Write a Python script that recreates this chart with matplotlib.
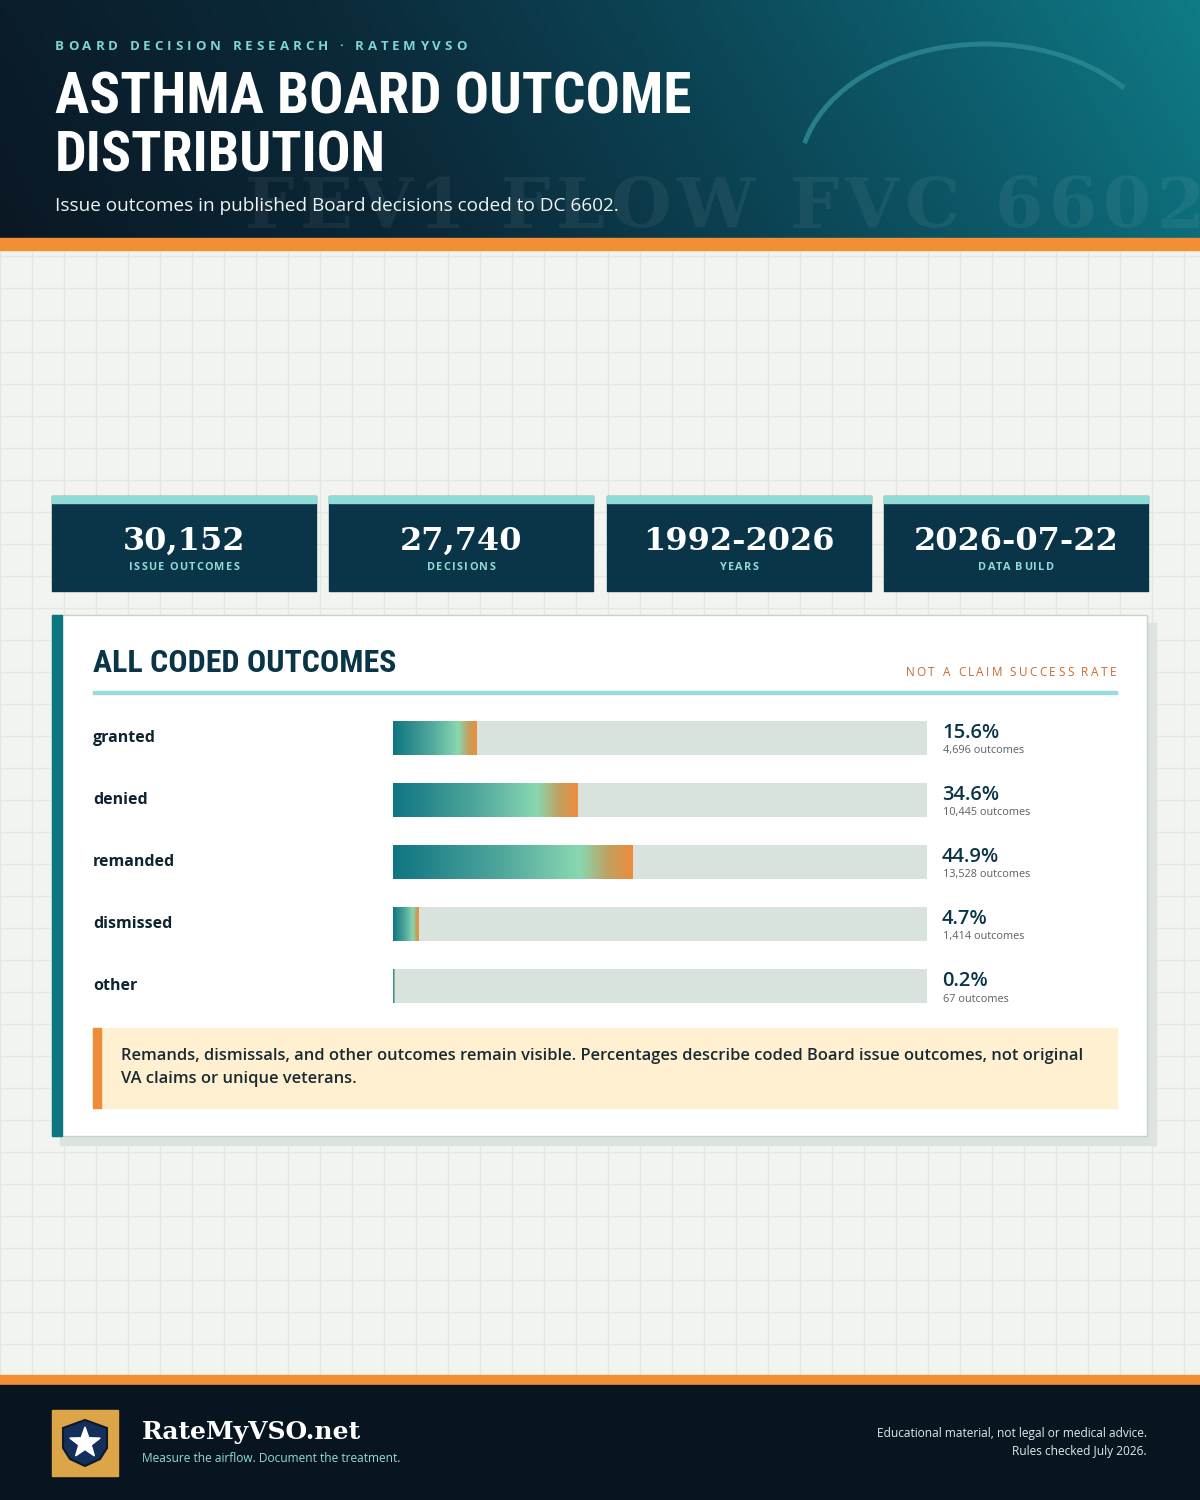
import matplotlib
matplotlib.use("Agg")
import matplotlib.pyplot as plt
import numpy as np
from matplotlib import font_manager as fm
from matplotlib.colors import LinearSegmentedColormap
from matplotlib.patches import Rectangle, Polygon, Arc

# ---------------- data ----------------
categories = ["granted", "denied", "remanded", "dismissed", "other"]
percents = [15.6, 34.6, 44.9, 4.7, 0.2]
counts = ["4,696", "10,445", "13,528", "1,414", "67"]
stat_values = ["30,152", "27,740", "1992-2026", "2026-07-22"]
stat_labels = ["ISSUE OUTCOMES", "DECISIONS", "YEARS", "DATA BUILD"]

avail = {f.name for f in fm.fontManager.ttflist}
def pick(*names):
    for n in names:
        if n in avail:
            return n
    return "DejaVu Sans"

COND = pick("Liberation Sans Narrow", "DejaVu Sans Condensed", "Roboto Condensed", "Liberation Sans")
BODY = pick("Open Sans", "Lato", "Noto Sans", "DejaVu Sans")
SERIF = pick("DejaVu Serif", "Liberation Serif")

W, H = 1200, 1500
fig = plt.figure(figsize=(12, 15), dpi=100)
ax = fig.add_axes([0, 0, 1, 1])
ax.set_xlim(0, W)
ax.set_ylim(H, 0)
ax.axis("off")
renderer = fig.canvas.get_renderer()

def text_w(s, **kw):
    t = ax.text(0, 0, s, **kw)
    w = t.get_window_extent(renderer).width
    t.remove()
    return w

def fit_text(x, y, s, width, base=20, **kw):
    w = text_w(s, fontsize=base, **kw)
    fs = base * width / w
    return ax.text(x, y, s, fontsize=fs, **kw)

def spaced(x, y, s, spacing, ha="left", **kw):
    total = text_w(s, **kw) + spacing * (len(s) - 1)
    if ha == "right":
        x0 = x - total
    elif ha == "center":
        x0 = x - total / 2
    else:
        x0 = x
    for i, ch in enumerate(s):
        if ch == " ":
            continue
        off = text_w(s[:i] + "|", **kw) - text_w("|", **kw) if i > 0 else 0
        ax.text(x0 + off + i * spacing, y, ch, ha="left", **kw)

# ---------------- background ----------------
ax.add_patch(Rectangle((0, 0), W, H, color="#f2f4ef", zorder=0))
for gx in range(0, W + 1, 32):
    ax.plot([gx, gx], [250, 1375], color="#e1e8e3", lw=1, zorder=0.5)
for gy in range(256, 1375, 32):
    ax.plot([0, W], [gy, gy], color="#e1e8e3", lw=1, zorder=0.5)

# ---------------- header ----------------
hcmap = LinearSegmentedColormap.from_list(
    "hdr", [(0, "#0a1824"), (0.35, "#0b2a3a"), (0.6, "#0c4555"), (0.82, "#0d6170"), (1, "#0f7b86")])
gx_ = np.linspace(0, 1, 300)
gy_ = np.linspace(0, 1, 60)
G = np.clip(gx_[None, :] * 0.9 + (1 - gy_[:, None]) * 0.1, 0, 1)
ax.imshow(G, cmap=hcmap, extent=(0, W, 238, 0), aspect="auto", zorder=1, vmin=0, vmax=1)
ax.add_patch(Rectangle((0, 238), W, 12, color="#f28f35", zorder=2))

ax.add_patch(Arc((985, 175), 372, 262, theta1=190, theta2=328, color="#2a8590", lw=3.5,
                 alpha=0.9, zorder=2))
spaced(245, 208, "FEV1 FLOW FVC 6602", 5.5, fontsize=50, family=SERIF, fontweight="bold",
       color="#ffffff", alpha=0.06, va="center", zorder=2)

spaced(55, 46, "BOARD DECISION RESEARCH · RATEMYVSO", 4.0, fontsize=9.5, family=BODY,
       fontweight="bold", color="#7fd6d0", va="center", zorder=3)
fit_text(55, 98, "ASTHMA BOARD OUTCOME", 636, family=COND, fontweight="bold", color="white",
         va="center", zorder=3)
fit_text(55, 157, "DISTRIBUTION", 332, family=COND, fontweight="bold", color="white",
         va="center", zorder=3)
fit_text(55, 206, "Issue outcomes in published Board decisions coded to DC 6602.", 563,
         family=BODY, color="#eef5f5", va="center", zorder=3)

# ---------------- stat cards ----------------
card_x = [52, 329, 607, 884]
cw = 264
for x0, v, lab in zip(card_x, stat_values, stat_labels):
    ax.add_patch(Rectangle((x0, 496), cw, 95, color="#0a3447", zorder=2))
    ax.add_patch(Rectangle((x0, 496), cw, 7, color="#8fdcd6", zorder=3))
    ax.text(x0 + cw / 2, 541, v, fontsize=23, family=SERIF, fontweight="bold",
            color="white", ha="center", va="center", zorder=3)
    spaced(x0 + cw / 2, 567, lab, 1.3, ha="center", fontsize=7.8, family=BODY,
           fontweight="bold", color="#8fdcd6", va="center", zorder=3)

# ---------------- panel ----------------
ax.add_patch(Rectangle((60, 623), 1096, 522, color="#dde3df", zorder=1.5))
ax.add_patch(Rectangle((52, 615), 1095, 521, facecolor="white", edgecolor="#c9cfcc", lw=1, zorder=2))
ax.add_patch(Rectangle((52, 615), 10, 521, color="#0e7582", zorder=3))
fit_text(93, 663, "ALL CODED OUTCOMES", 302, family=COND, fontweight="bold", color="#0a3447",
         va="center", zorder=3)
spaced(1116, 673, "NOT A CLAIM SUCCESS RATE", 2.4, ha="right", fontsize=8.5, family=BODY,
       color="#c8692a", va="center", zorder=3)
ax.add_patch(Rectangle((93, 691), 1024, 3, color="#9adcd8", zorder=3))

# bars in their own axes with a 0-100 % scale
bx0, bx1 = 393, 927
row_y = [738, 800, 862, 924, 986]
top, bot = 707, 1017
bax = fig.add_axes([bx0 / W, 1 - bot / H, (bx1 - bx0) / W, (bot - top) / H])
bax.set_xlim(0, 100)
bax.set_ylim(bot, top)
bax.axis("off")
bh = 34
gcmap = LinearSegmentedColormap.from_list(
    "bar", [(0, "#0e7582"), (0.45, "#4fa79c"), (0.78, "#88d8b0"), (0.9, "#c2a060"), (1, "#ee8c3a")])
grad = np.linspace(0, 1, 256)[None, :]
for yc, p in zip(row_y, percents):
    bax.barh(yc, 100, height=bh, color="#d9e3de", zorder=1)
    bax.imshow(grad, cmap=gcmap, extent=(0, max(p, 0.15), yc + bh / 2, yc - bh / 2),
               aspect="auto", zorder=2, interpolation="bilinear")
bax.set_xlim(0, 100)
bax.set_ylim(bot, top)

for yc, cat, p, c in zip(row_y, categories, percents, counts):
    ax.text(93, yc, cat, fontsize=11.5, family=BODY, fontweight="bold", color="#0f2430",
            va="center", zorder=3)
    ax.text(942, yc - 5, f"{p:.1f}%", fontsize=14.5, family=BODY, fontweight="semibold",
            color="#0a3447", va="center", zorder=3)
    ax.text(943, yc + 13, f"{c} outcomes", fontsize=7.8, family=BODY, color="#5a6066",
            va="center", zorder=3)

# note box
ax.add_patch(Rectangle((93, 1028), 1024, 80, color="#fff0d2", zorder=3))
ax.add_patch(Rectangle((93, 1028), 8, 80, color="#ee8c3a", zorder=4))
t1 = fit_text(121, 1056, "Remands, dismissals, and other outcomes remain visible. Percentages describe coded Board issue outcomes, not original",
              961, family=BODY, fontweight="semibold", color="#1a2a33", va="center", zorder=4)
ax.text(121, 1079, "VA claims or unique veterans.", fontsize=t1.get_fontsize(), family=BODY,
        fontweight="semibold", color="#1a2a33", va="center", zorder=4)

# ---------------- footer ----------------
ax.add_patch(Rectangle((0, 1375), W, 10, color="#f28f35", zorder=2))
ax.add_patch(Rectangle((0, 1385), W, 115, color="#081520", zorder=2))
ax.add_patch(Rectangle((52, 1410), 66, 66, color="#dca548", zorder=3))
shield = [(85, 1420), (107, 1428), (107, 1448), (100, 1459), (85, 1466), (70, 1459), (63, 1448), (63, 1428)]
ax.add_patch(Polygon(shield, closed=True, facecolor="#14305a", edgecolor="#0a1a2e", lw=1.5, zorder=4))
ang = np.pi / 2 + np.arange(10) * np.pi / 5
rad = np.where(np.arange(10) % 2 == 0, 16, 6.5)
star = np.column_stack([85 + rad * np.cos(ang), 1443 - rad * np.sin(ang)])
ax.add_patch(Polygon(star, closed=True, color="white", zorder=5))

ax.text(142, 1432, "RateMyVSO.net", fontsize=18, family=SERIF, fontweight="bold", color="white",
        va="center", zorder=3)
ax.text(142, 1458, "Measure the airflow. Document the treatment.", fontsize=8.6, family=BODY,
        color="#8fdcd6", va="center", zorder=3)
ax.text(1147, 1434, "Educational material, not legal or medical advice.", fontsize=8.6, family=BODY,
        color="#e2e8ea", ha="right", va="center", zorder=3)
ax.text(1147, 1451, "Rules checked July 2026.", fontsize=8.6, family=BODY,
        color="#e2e8ea", ha="right", va="center", zorder=3)

fig.savefig("out.png", dpi=100)
